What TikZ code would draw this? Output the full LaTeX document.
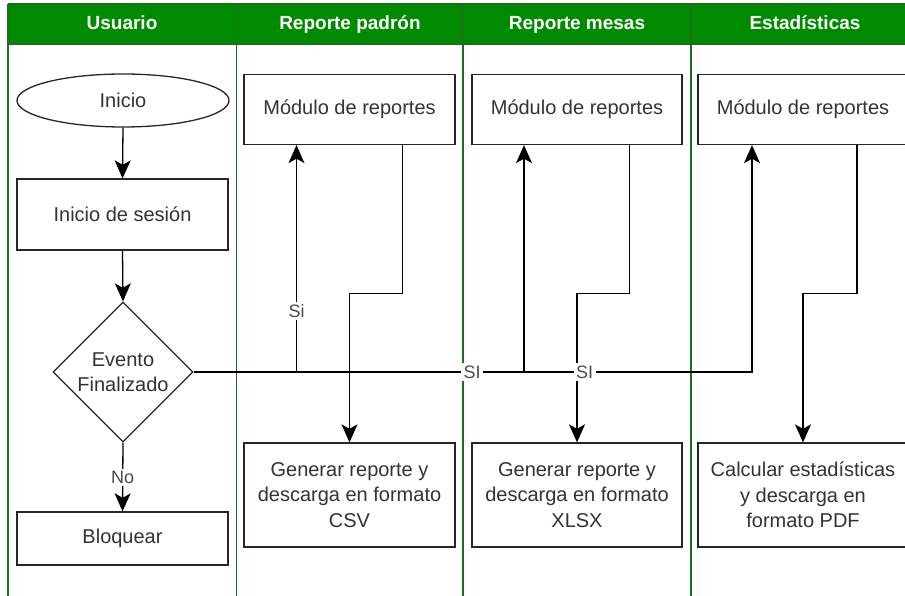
\documentclass[tikz,border=0pt]{standalone}
\usepackage{fontspec}
\setmainfont{Liberation Sans}
\usetikzlibrary{shapes.geometric,arrows.meta}
\definecolor{headgreen}{HTML}{008A00}
\definecolor{lanegreen}{HTML}{1E6E1E}
\definecolor{inkgray}{HTML}{333333}
\begin{document}
\begin{tikzpicture}[x=1pt,y=-1pt,
  txt/.style={font=\fontsize{20}{25.5}\selectfont, text=inkgray},
  shapeline/.style={draw=black!85, line width=1.3pt, fill=white},
  box/.style={txt, shapeline, align=center, inner sep=0pt},
  headtxt/.style={font=\fontsize{19}{22}\selectfont\bfseries, text=white, text height=14pt, text depth=4pt},
  lbl/.style={font=\fontsize{18}{20}\selectfont, text=black!70, fill=white, inner sep=2.5pt},
  arr/.style={line width=1.3pt, draw=black, -{Stealth[length=18pt,width=16pt,inset=4.5pt]}},
  laneline/.style={draw=lanegreen, line width=1.5pt}
]
\useasboundingbox (0,0) rectangle (905,596);
\clip (0,0) rectangle (905,596);

% swimlanes: header band and dividers
\fill[headgreen] (8,4) rectangle (930,44);
\draw[laneline] (8,4) -- (930,4);
\draw[laneline] (8,44) -- (930,44);
\foreach \x in {8,236.5,463,691,919}
  \draw[laneline] (\x,4) -- (\x,610);

\node[headtxt] (h1) at (122,25) {Usuario};
\node[headtxt] (h2) at (350,25) {Reporte padrón};
\node[headtxt] (h3) at (577,25) {Reporte mesas};
\node[headtxt] (h4) at (805,25) {Estadísticas};

% user lane
\node[txt, shapeline, ellipse, inner sep=0pt, minimum width=212pt, minimum height=53pt] (start) at (123,100.5) {Inicio};
\node[box, minimum width=211pt, minimum height=71pt] (login) at (122.5,214.5) {Inicio de sesión};
\node[shapeline, diamond, aspect=1, inner sep=0pt, minimum width=140pt, minimum height=140pt] (dec) at (123,372) {};
\node[txt, align=center] (dectxt) at (dec) {Evento\\Finalizado};
\node[box, minimum width=211pt, minimum height=53pt] (block) at (122.5,538.5) {Bloquear};

% report modules
\node[box, minimum width=211pt, minimum height=70pt] (mod1) at (349.5,109.5) {Módulo de reportes};
\node[box, minimum width=210pt, minimum height=70pt] (mod2) at (577,109.5) {Módulo de reportes};
\node[box, minimum width=210pt, minimum height=70pt] (mod3) at (803,109.5) {Módulo de reportes};

\node[box, minimum width=211pt, minimum height=104pt] (gen1) at (349.5,495) {Generar reporte y\\descarga en formato\\CSV};
\node[box, minimum width=210pt, minimum height=104pt] (gen2) at (577,495) {Generar reporte y\\descarga en formato\\XLSX};
\node[box, minimum width=210pt, minimum height=104pt] (gen3) at (803,495) {Calcular estadísticas\\y descarga en\\formato PDF};

% user flow
\draw[arr] (start.south) -- (login.north);
\draw[arr] (login.south) -- (dec.north);
\draw[arr] (dec.south) -- (block.north);

% module to output
\draw[arr] ([xshift=53pt]mod1.south) -- ++(0,148) -| (gen1.north);
\draw[arr] ([xshift=52.5pt]mod2.south) -- ++(0,148) -| (gen2.north);
\draw[arr] ([xshift=54pt]mod3.south) -- ++(0,148) -| (gen3.north);

% decision to modules
\draw[arr] (dec.east) -| ([xshift=-53pt]mod1.south);
\draw[arr] (dec.east) -| ([xshift=-53pt]mod2.south);
\draw[arr] (dec.east) -| ([xshift=-51pt]mod3.south);

% connector labels on top
\path (dec.east) -| ([xshift=-53pt]mod1.south) node[lbl, pos=0.634] (l1) {Si};
\path (dec.east) -| ([xshift=-53pt]mod2.south) node[lbl, pos=0.4215] (l2) {SI};
\path (dec.east) -| ([xshift=-51pt]mod3.south) node[lbl, pos=0.35] (l3) {SI};
\path (dec.south) -- (block.north) node[lbl, pos=0.51] (l4) {No};
\end{tikzpicture}
\end{document}
